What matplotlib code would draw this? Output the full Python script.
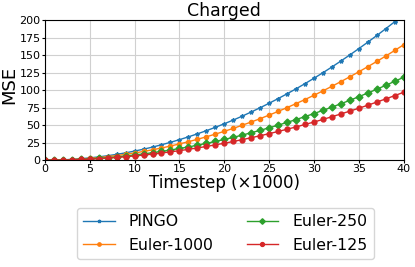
import numpy as np
import matplotlib
matplotlib.use("Agg")
from matplotlib import pyplot as plt

# data
timestep = list(range(0, 41))
pingo = [0, 0.13, 0.5, 1.2, 2.1, 3.3, 4.7, 6.4, 8.3, 10.5, 13.0, 15.7, 18.7, 22.0, 25.5,
         29.3, 33.3, 37.6, 42.1, 46.9, 52.0, 57.3, 62.9, 68.8, 74.9, 81.3, 87.9, 94.8,
         101.9, 109.3, 117.0, 124.9, 133.1, 141.6, 150.3, 159.3, 168.5, 178.0, 187.7,
         197.7, 208.0]
euler_1000 = [0, 0.1, 0.4, 0.9, 1.7, 2.6, 3.7, 5.1, 6.6, 8.3, 10.3, 12.5, 14.8, 17.4, 20.2,
              23.2, 26.4, 29.8, 33.4, 37.2, 41.2, 45.4, 49.9, 54.5, 59.3, 64.4, 69.6, 75.1,
              80.8, 86.6, 92.7, 99.0, 105.5, 112.2, 119.1, 126.2, 133.5, 141.0, 148.7,
              156.7, 164.8]
euler_250 = [0, 0.07, 0.3, 0.7, 1.2, 1.9, 2.7, 3.6, 4.7, 6.0, 7.4, 9.0, 10.7, 12.5, 14.5,
             16.7, 18.9, 21.4, 24.0, 26.7, 29.6, 32.6, 35.8, 39.2, 42.6, 46.3, 50.0, 54.0,
             58.0, 62.2, 66.6, 71.1, 75.8, 80.6, 85.5, 90.7, 95.9, 101.3, 106.9, 112.6,
             118.4]
euler_125 = [0, 0.06, 0.24, 0.55, 1.0, 1.5, 2.2, 3.0, 3.9, 4.9, 6.1, 7.3, 8.7, 10.2, 11.9,
             13.6, 15.5, 17.5, 19.6, 21.9, 24.2, 26.7, 29.3, 32.1, 34.9, 37.9, 41.0, 44.2,
             47.5, 51.0, 54.5, 58.2, 62.1, 66.0, 70.1, 74.2, 78.5, 83.0, 87.5, 92.2, 97.0]

fig = plt.figure(figsize=(4.15, 2.67), dpi=100)
ax = fig.add_axes([0.108, 0.40, 0.865, 0.525])

ax.plot(timestep, pingo, color="tab:blue", marker="*", ms=3, lw=1, label="PINGO")
ax.plot(timestep, euler_1000, color="tab:orange", marker="o", ms=3, lw=1, label="Euler-1000")
ax.plot(timestep, euler_250, color="tab:green", marker="D", ms=3.5, lw=1, label="Euler-250")
ax.plot(timestep, euler_125, color="tab:red", marker="o", ms=3.5, lw=1, label="Euler-125")

ax.set_xlim(0, 40)
ax.set_ylim(0, 200)
ax.set_xticks(range(0, 41, 5))
ax.set_yticks(range(0, 201, 25))
ax.tick_params(labelsize=8, length=2, pad=1)
ax.grid(True, color="#d0d0d0", lw=0.8)
ax.set_axisbelow(True)

ax.set_title("Charged", fontsize=12.5, pad=1)
ax.set_ylabel("MSE", fontsize=13, labelpad=1,
              family=["Liberation Sans Narrow", "DejaVu Sans"])
ax.yaxis.set_label_coords(-0.075, 0.54)
ax.set_xlabel("Timestep (×1000)", fontsize=12, labelpad=0)

fig.legend(loc="lower center", bbox_to_anchor=(0.543, 0.0), ncol=2, fontsize=11.3,
           columnspacing=2.1, handlelength=2.0, handletextpad=0.9, borderpad=0.4,
           labelspacing=0.55, markerscale=0.8)

fig.savefig("out.png", dpi=100)
